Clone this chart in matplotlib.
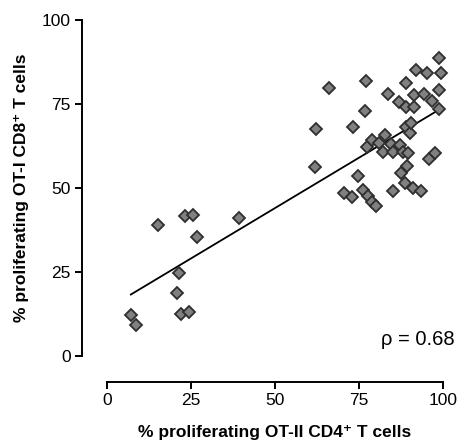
import matplotlib
matplotlib.use("Agg")
import matplotlib.pyplot as plt
import numpy as np

plt.rcParams['font.family'] = ['Liberation Sans', 'DejaVu Sans']

# % proliferating OT-II CD4+ (x) vs OT-I CD8+ (y)
cd4 = [7.1, 8.5, 15.2, 20.7, 21.5, 21.9, 24.3, 23.2, 25.5, 26.7, 39.4,
       61.9, 62.2, 66.1, 70.6, 73.0, 73.3, 74.8, 76.1, 77.6, 79.0, 80.0,
       76.9, 77.1, 77.5, 78.8, 81.0, 82.7, 82.2, 83.7, 84.5, 85.2, 85.0,
       86.9, 87.2, 87.5, 88.2, 88.9, 88.7, 89.0, 89.1, 89.2, 89.7, 90.3,
       90.6, 91.0, 91.4, 91.5, 92.0, 93.6, 94.4, 95.1, 95.8, 96.7, 97.6,
       98.8, 98.8, 98.9, 99.4]
cd8 = [12.2, 9.3, 39.0, 18.6, 24.8, 12.5, 13.1, 41.7, 42.0, 35.5, 41.2,
       56.2, 67.7, 79.8, 48.5, 47.2, 68.1, 53.7, 49.4, 47.5, 45.9, 44.6,
       72.8, 81.9, 62.1, 64.4, 63.3, 65.8, 60.6, 78.0, 63.1, 60.6, 49.2,
       75.7, 62.8, 54.4, 60.8, 81.3, 51.5, 68.2, 74.0, 56.6, 60.3, 66.5,
       69.4, 50.0, 74.2, 77.8, 85.2, 49.2, 78.0, 84.1, 58.6, 75.8, 60.3,
       79.2, 73.6, 88.6, 84.3]
ticks = [0, 25, 50, 75, 100]
rho_text = "\u03c1 = 0.68"

x = np.array(cd4)
y = np.array(cd8)
slope, intercept = np.polyfit(x, y, 1)
xfit = np.array([x.min(), 98.1])

fig = plt.figure(figsize=(4.6, 4.47), dpi=100)
ax = fig.add_axes([0.2326, 0.2036, 0.7304, 0.7517])

ax.plot(xfit, slope * xfit + intercept, color='black', lw=1.3, zorder=2)
ax.plot(x, y, 'D', ms=6.4, mfc='#808080', mec='#2e2e2e', mew=1.3,
        clip_on=False, zorder=3)

ax.set_xlim(0, 100)
ax.set_ylim(0, 100)
ax.set_xticks(ticks)
ax.set_yticks(ticks)
ax.spines['top'].set_visible(False)
ax.spines['right'].set_visible(False)
ax.spines['left'].set_position(('outward', 18))
ax.spines['bottom'].set_position(('outward', 19))
for s in ['left', 'bottom']:
    ax.spines[s].set_linewidth(1.4)
ax.tick_params(direction='out', length=5, width=1.4, labelsize=12.5, pad=3)

ax.set_xlabel("% proliferating OT-II CD4\u207a T cells", fontsize=12.5,
              fontweight='bold', labelpad=12)
ax.set_ylabel("% proliferating OT-I CD8\u207a T cells", fontsize=12.5,
              fontweight='bold', labelpad=9)

ax.text(103.5, 3.3, rho_text, fontsize=14.5, ha='right', va='baseline')

fig.savefig("out.png", dpi=100)
